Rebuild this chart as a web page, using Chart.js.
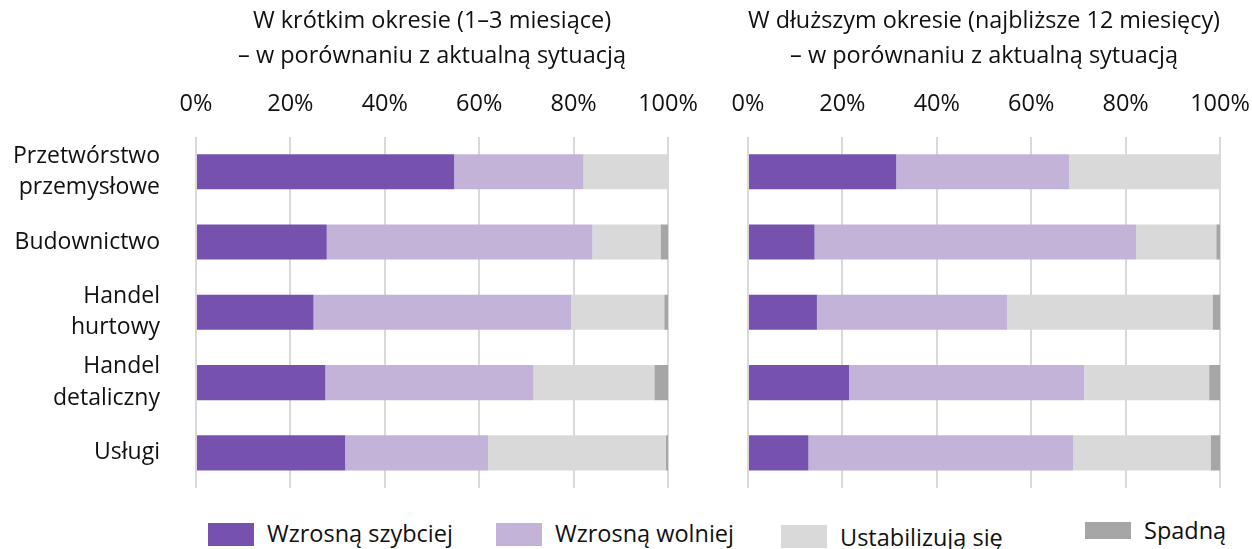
<!DOCTYPE html>
<html>
<head>
<meta charset="utf-8">
<script src="https://cdn.jsdelivr.net/npm/chart.js@4"></script>
<style>
  body { margin: 0; background: #fff; width: 1252px; height: 549px; position: relative; overflow: hidden; font-family: 'Open Sans', sans-serif; }
  .box { position: absolute; top: 0; height: 500px; }
  #leftBox { left: 0; width: 720px; }
  #rightBox { left: 690px; width: 562px; }
  #legend { position: absolute; top: 520px; left: 0; width: 1252px; height: 29px; }
  .item { position: absolute; top: 3px; height: 23px; font-size: 23.5px; color: #111; }
  .swatch { position: absolute; left: 0; top: 0; width: 46px; height: 23px; }
  .label { position: absolute; left: 59px; top: -6px; white-space: nowrap; }
</style>
</head>
<body>
<div class="box" id="leftBox"><canvas id="chart-short"></canvas></div>
<div class="box" id="rightBox"><canvas id="chart-long"></canvas></div>
<div id="legend"></div>
<script>
// Kategorie i serie (w %)
const categories = [['Przetwórstwo', 'przemysłowe'], 'Budownictwo', ['Handel', 'hurtowy'], ['Handel', 'detaliczny'], 'Usługi'];
const seriesNames = ['Wzrosną szybciej', 'Wzrosną wolniej', 'Ustabilizują się', 'Spadną'];
const seriesColors = ['#7652ae', '#c3b3d8', '#d9d9d9', '#a6a6a6'];
const tickValues = [0, 20, 40, 60, 80, 100];

const shortFaster = [54.7, 27.7, 24.9, 27.4, 31.6];
const shortSlower = [27.4, 56.3, 54.6, 44.1, 30.3];
const shortStable = [17.9, 14.4, 19.7, 25.6, 37.6];
const shortFall = [0, 1.6, 0.8, 2.9, 0.5];

const longFaster = [31.4, 14.1, 14.6, 21.4, 12.8];
const longSlower = [36.6, 68.1, 40.3, 49.8, 56.1];
const longStable = [32.0, 17.0, 43.5, 26.5, 29.1];
const longFall = [0, 0.8, 1.6, 2.3, 2.0];

const titleShort = ['W krótkim okresie (1–3 miesiące)', '– w porównaniu z aktualną sytuacją'];
const titleLong = ['W dłuższym okresie (najbliższe 12 miesięcy)', '– w porównaniu z aktualną sytuacją'];

const FONT = "'Open Sans', sans-serif";
const TEXT = '#111111';

function makeChart(id, series, title, showLabels, yWidth, padRight) {
    const ctx = document.getElementById(id).getContext('2d');
    return new Chart(ctx, {
        type: 'bar',
        data: {
            labels: categories,
            datasets: series.map((data, i) => ({
                label: seriesNames[i],
                data,
                backgroundColor: seriesColors[i],
                borderWidth: 0,
                categoryPercentage: 0.5,
                barPercentage: 1
            }))
        },
        options: {
            responsive: true,
            maintainAspectRatio: false,
            animation: false,
            indexAxis: 'y',
            layout: { padding: { left: 0, right: padRight, top: 0, bottom: 12 } },
            plugins: {
                legend: { display: false },
                tooltip: { enabled: false },
                title: {
                    display: true,
                    text: title,
                    fullSize: false,
                    color: TEXT,
                    font: { family: FONT, size: 23.5, weight: 'normal', lineHeight: 1.48 },
                    padding: { top: 4, bottom: 0 }
                }
            },
            scales: {
                x: {
                    position: 'top',
                    stacked: true,
                    min: 0,
                    max: 100,
                    afterBuildTicks: s => { s.ticks = tickValues.map(v => ({ value: v })); },
                    afterFit: s => { s.height = 63; s.paddingLeft = 0; s.paddingRight = 0; },
                    border: { display: false },
                    grid: { color: '#d9d9d9', lineWidth: 2, drawTicks: false },
                    ticks: {
                        color: TEXT,
                        padding: 18,
                        maxRotation: 0,
                        font: { family: FONT, size: 23.5 },
                        callback: v => v + '%'
                    }
                },
                y: {
                    stacked: true,
                    afterFit: s => { s.width = yWidth; s.paddingTop = 0; s.paddingBottom = 0; },
                    border: { display: false },
                    grid: { display: false, drawTicks: false },
                    ticks: {
                        display: showLabels,
                        autoSkip: false,
                        color: TEXT,
                        padding: 36,
                        font: { family: FONT, size: 23, lineHeight: 1.36 }
                    }
                }
            }
        }
    });
}

makeChart('chart-short', [shortFaster, shortSlower, shortStable, shortFall], titleShort, true, 196, 52);
makeChart('chart-long', [longFaster, longSlower, longStable, longFall], titleLong, false, 58, 32);

// Legenda wspólna dla obu wykresów
const legendX = [208, 496, 781, 1085];
const legendDy = [0, 0, 4, -3];
const swatchDy = [0, 0, 2, -1];
const swatchH = [23, 23, 23, 17];
const legend = document.getElementById('legend');
seriesNames.forEach((name, i) => {
    const item = document.createElement('div');
    item.className = 'item';
    item.style.left = legendX[i] + 'px';
    item.innerHTML = '<span class="swatch" style="background:' + seriesColors[i] +
        ';top:' + swatchDy[i] + 'px;height:' + swatchH[i] + 'px"></span>' +
        '<span class="label" style="margin-top:' + legendDy[i] + 'px">' + name + '</span>';
    legend.appendChild(item);
});
</script>
</body>
</html>
